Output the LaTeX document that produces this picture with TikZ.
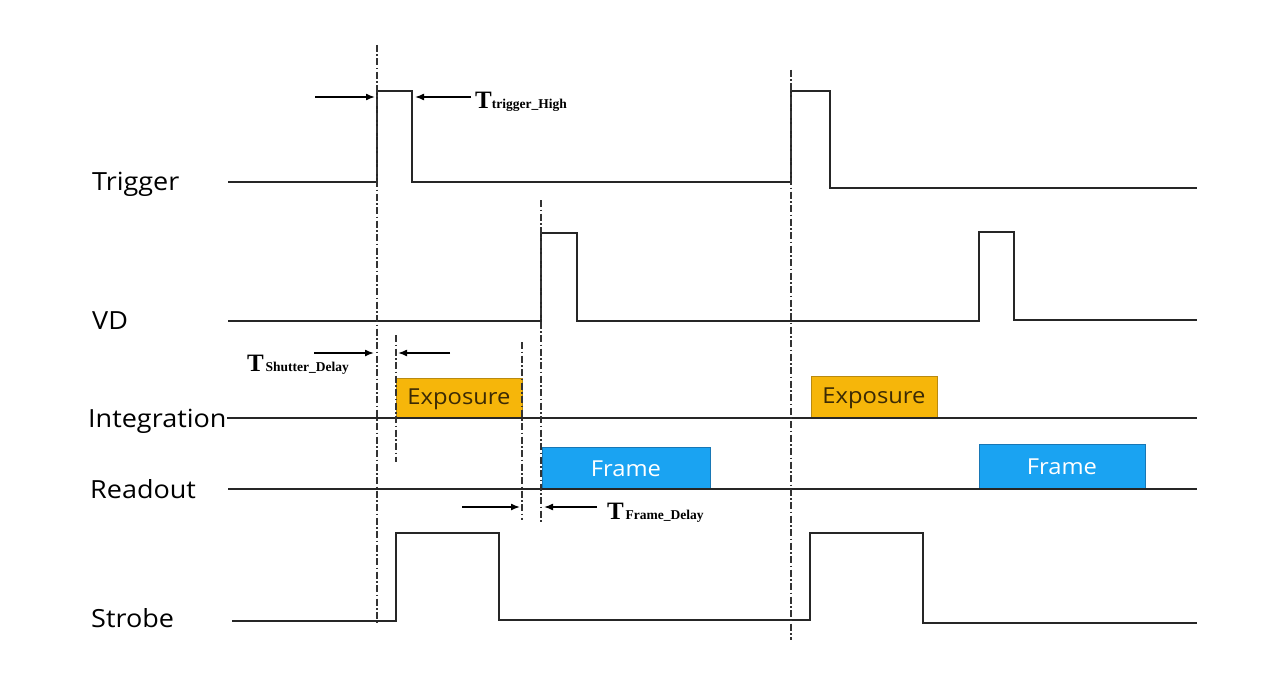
\documentclass[tikz,border=0pt]{standalone}
\usepackage{fontspec}
\setmainfont{Liberation Serif}
\newfontfamily\labfont[FakeStretch=1.08]{Open Sans}
\usetikzlibrary{arrows.meta}
\definecolor{expo}{HTML}{F6B60A}
\definecolor{expoline}{HTML}{B98A10}
\definecolor{frameblue}{HTML}{1AA3F2}
\definecolor{frameline}{HTML}{1877B5}
\definecolor{expotext}{HTML}{3B2A05}
\newcommand{\Tlab}[2]{{\fontsize{25}{25}\selectfont\bfseries T}#1{\fontsize{13.5}{14}\selectfont\bfseries #2}}
\begin{document}
\begin{tikzpicture}[x=1pt,y=-1pt,
  sig/.style={line width=2pt, black!85, line join=miter},
  guide/.style={line width=1.5pt, black!80, dash pattern=on 7pt off 2.5pt on 1.5pt off 2.5pt},
  dim/.style={line width=1.5pt, black, -{Latex[length=9pt,width=7pt]}},
  lab/.style={font=\labfont\fontsize{25}{25}\selectfont, anchor=base west, inner sep=0pt},
  tlab/.style={anchor=base west, inner sep=0pt},
  expobox/.style={draw=expoline, fill=expo, line width=0.8pt},
  framebox/.style={draw=frameline, fill=frameblue, line width=0.8pt},
  boxtext/.style={font=\labfont\fontsize{22}{22}\selectfont, inner sep=0pt}]
\useasboundingbox (0,0) rectangle (1288,693);
\fill[white] (0,0) rectangle (1288,693);

% boxes
\filldraw[expobox] (396,378) rectangle (522,418);
\filldraw[expobox] (811,376) rectangle (937,418);
\filldraw[framebox] (542,447) rectangle (710,489);
\filldraw[framebox] (979,444) rectangle (1145,488);
\node[boxtext, text=expotext] (exp1) at (459,399) {Exposure};
\node[boxtext, text=expotext] (exp2) at (874,398) {Exposure};
\node[boxtext, text=white] (fr1) at (626,469) {Frame};
\node[boxtext, text=white] (fr2) at (1062,467) {Frame};

% signal lines
\draw[sig] (228,182) -- (377,182) -- (377,91) -- (412,91) -- (412,182) -- (791,182) -- (791,91) -- (830,91) -- (830,188) -- (1197,188);
\draw[sig] (228,321) -- (541,321) -- (541,233) -- (577,233) -- (577,321) -- (979,321) -- (979,232) -- (1014,232) -- (1014,320) -- (1197,320);
\draw[sig] (227,418) -- (1197,418);
\draw[sig] (228,489) -- (1197,489);
\draw[sig] (232,621) -- (396,621) -- (396,533) -- (499,533) -- (499,620) -- (810,620) -- (810,533) -- (923,533) -- (923,623) -- (1197,623);

% guides
\draw[guide] (377,45) -- (377,625);
\draw[guide] (791,70) -- (791,640);
\draw[guide] (541,200) -- (541,522);
\draw[guide] (396,335) -- (396,462);
\draw[guide] (522,342) -- (522,520);

% dimension arrows
\coordinate (a1) at (315,97); \coordinate (a1e) at (375,97);
\coordinate (a2) at (471,97); \coordinate (a2e) at (415,97);
\draw[dim] (a1) -- (a1e);
\draw[dim] (a2) -- (a2e);
\coordinate (b1) at (314,353); \coordinate (b1e) at (374,353);
\coordinate (b2) at (450,353); \coordinate (b2e) at (398,353);
\draw[dim] (b1) -- (b1e);
\draw[dim] (b2) -- (b2e);
\coordinate (c1) at (462,507); \coordinate (c1e) at (520,507);
\coordinate (c2) at (597,507); \coordinate (c2e) at (544,507);
\draw[dim] (c1) -- (c1e);
\draw[dim] (c2) -- (c2e);

% T labels
\node[tlab] (tth) at (475,108) {\Tlab{}{trigger\_High}};
\node[tlab] (tsd) at (247,371) {\Tlab{\,}{Shutter\_Delay}};
\node[tlab] (tfd) at (607,519) {\Tlab{\,}{Frame\_Delay}};

% row labels
\node[lab] (ltrig) at (92,190) {Trigger};
\node[lab] (lvd) at (92,329) {VD};
\node[lab] (lint) at (88,427) {Integration};
\node[lab] (lread) at (90,498) {Readout};
\node[lab] (lstrobe) at (91,627) {Strobe};
\end{tikzpicture}
\end{document}
